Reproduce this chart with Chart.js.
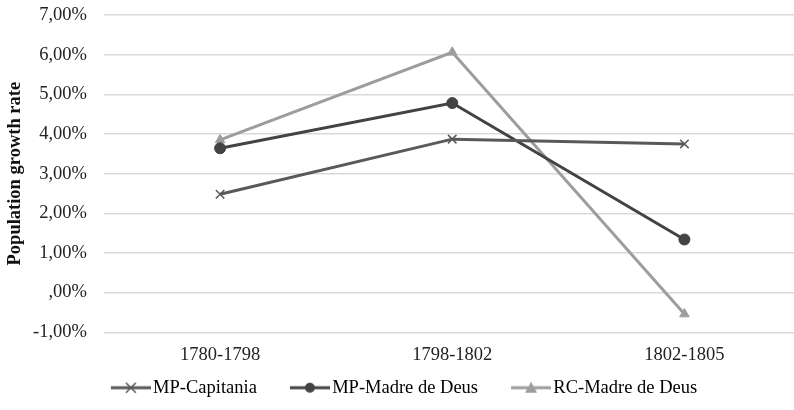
<!DOCTYPE html>
<html>
<head>
<meta charset="utf-8">
<script src="https://cdn.jsdelivr.net/npm/chart.js@4/dist/chart.umd.min.js"></script>
<style>
  html, body { margin: 0; padding: 0; background: #fff; overflow: hidden; }
  #wrap { width: 794px; height: 410px; position: relative; overflow: hidden; }
  #growthChart { display: block; }
</style>
</head>
<body>
<div id="wrap"><canvas id="growthChart" width="808" height="410"></canvas></div>
<script>
const periods = ['1780-1798', '1798-1802', '1802-1805'];
const mpCapitania = [2.48, 3.87, 3.75];
const mpMadreDeus = [3.64, 4.78, 1.34];
const rcMadreDeus = [3.85, 6.06, -0.54];
const yTicks = [-1, 0, 1, 2, 3, 4, 5, 6, 7];

const serif = '"Liberation Serif", "Times New Roman", serif';
const fontSize = 18.5;

function fmtPct(v) {
    let s = Math.abs(v).toFixed(2).replace('.', ',');
    if (s.startsWith('0')) s = s.slice(1);
    return (v < 0 ? '-' : '') + s + '%';
}

// legend swatch: line with marker, blank space on the left so items sit apart
function swatch(color, style) {
    const c = document.createElement('canvas');
    c.width = 80; c.height = 14;
    const g = c.getContext('2d');
    const x0 = 40, x1 = 80, mx = 60, my = 7;
    g.strokeStyle = color; g.fillStyle = color; g.lineWidth = 3;
    g.beginPath(); g.moveTo(x0, my); g.lineTo(x1, my); g.stroke();
    g.lineWidth = 1.5;
    if (style === 'cross') {
        g.beginPath();
        g.moveTo(mx - 5, my - 5); g.lineTo(mx + 5, my + 5);
        g.moveTo(mx + 5, my - 5); g.lineTo(mx - 5, my + 5);
        g.stroke();
    } else if (style === 'circle') {
        g.beginPath(); g.arc(mx, my, 5, 0, Math.PI * 2); g.fill();
    } else {
        g.beginPath(); g.moveTo(mx, my - 6); g.lineTo(mx + 6, my + 5); g.lineTo(mx - 6, my + 5); g.closePath(); g.fill();
    }
    return c;
}

const seriesStyle = [
    { label: 'MP-Capitania', data: mpCapitania, color: '#595959', point: 'crossRot', sw: 'cross' },
    { label: 'MP-Madre de Deus', data: mpMadreDeus, color: '#434343', point: 'circle', sw: 'circle' },
    { label: 'RC-Madre de Deus', data: rcMadreDeus, color: '#9d9d9d', point: 'triangle', sw: 'triangle' }
];

// the blank lead-in of the first swatch and the wider canvas push the row right; pull it back
const legendShift = {
    id: 'legendShift',
    afterLayout(chart) {
        chart.legend.left -= 18.5;
        chart.legend.right -= 18.5;
    }
};

const ctx = document.getElementById('growthChart').getContext('2d');
const growthChart = new Chart(ctx, {
    type: 'line',
    data: {
        labels: periods,
        datasets: seriesStyle.map(s => ({
            label: s.label,
            data: s.data,
            borderColor: s.color,
            backgroundColor: s.color,
            borderWidth: 3,
            pointStyle: s.point,
            pointRadius: s.point === 'crossRot' ? 6 : 5.5,
            pointBorderWidth: s.point === 'crossRot' ? 1.5 : 1,
            tension: 0
        }))
    },
    plugins: [legendShift],
    options: {
        responsive: false,
        animation: false,
        layout: { padding: { top: 15, right: 0, bottom: 3, left: 4 } },
        plugins: {
            legend: {
                position: 'bottom',
                labels: {
                    font: { family: serif, size: fontSize },
                    color: '#222',
                    usePointStyle: true,
                    pointStyleWidth: 66,
                    padding: 0,
                    generateLabels: function(chart) {
                        return seriesStyle.map((s, i) => ({
                            text: s.label,
                            pointStyle: swatch(s.color, s.sw),
                            fillStyle: s.color,
                            strokeStyle: s.color,
                            lineWidth: 0,
                            hidden: false,
                            datasetIndex: i
                        }));
                    }
                }
            },
            tooltip: { enabled: false }
        },
        scales: {
            y: {
                min: -1,
                max: 7,
                afterBuildTicks: axis => { axis.ticks = yTicks.map(v => ({ value: v })); },
                afterFit: axis => {
                    axis.width = 100;
                    axis.paddingTop = 0;
                    axis.paddingBottom = 0;
                },
                grid: { color: '#d9d9d9', lineWidth: 1.5, drawTicks: false },
                border: { display: false },
                ticks: {
                    padding: 17,
                    color: '#222',
                    font: { family: serif, size: fontSize },
                    callback: v => fmtPct(v)
                },
                title: {
                    display: true,
                    text: 'Population growth rate',
                    color: '#111',
                    font: { family: serif, size: fontSize, weight: 'bold' },
                    padding: { top: 0, bottom: 0 }
                }
            },
            x: {
                offset: true,
                grid: { display: false, drawTicks: false },
                border: { display: false },
                ticks: {
                    padding: 12,
                    color: '#222',
                    font: { family: serif, size: fontSize }
                }
            }
        }
    }
});
</script>
</body>
</html>
